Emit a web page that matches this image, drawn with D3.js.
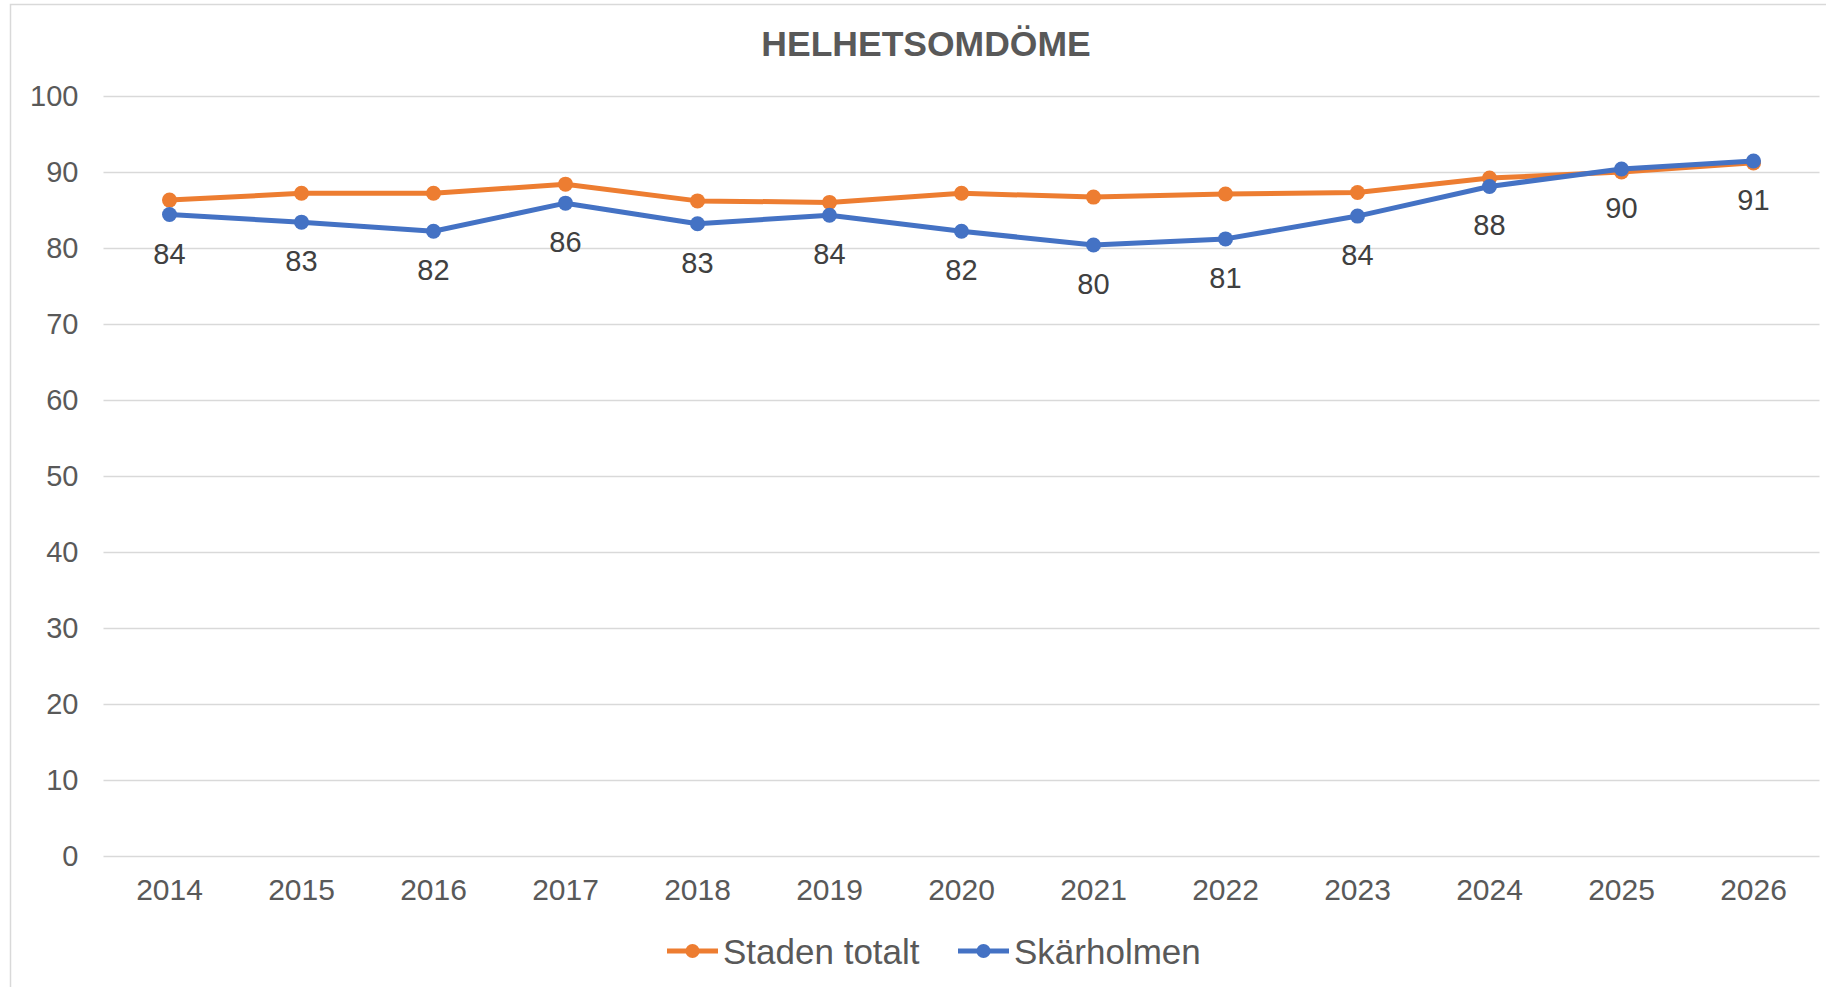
<!DOCTYPE html>
<html>
<head>
<meta charset="utf-8">
<script src="https://cdn.jsdelivr.net/npm/d3@7"></script>
<style>
  html, body { margin: 0; padding: 0; background: #ffffff; }
  svg { display: block; }
  text { font-family: "Liberation Sans", Arial, sans-serif; }
</style>
</head>
<body>
<svg id="chart" width="1826" height="987"></svg>
<script>
const title = "HELHETSOMDÖME";
const years = ["2014","2015","2016","2017","2018","2019","2020","2021","2022","2023","2024","2025","2026"];
const stadenTotalt = [86.3, 87.2, 87.2, 88.4, 86.2, 86.0, 87.2, 86.7, 87.1, 87.3, 89.2, 90.0, 91.2];
const skarholmen   = [84.4, 83.4, 82.2, 85.9, 83.2, 84.3, 82.2, 80.4, 81.2, 84.2, 88.1, 90.4, 91.45];
const seriesNames  = ["Staden totalt", "Skärholmen"];
const yTicks = [0, 10, 20, 30, 40, 50, 60, 70, 80, 90, 100];

const colors = ["#ED7D31", "#4472C4"];
const svg = d3.select("#chart");

// chart area frame
svg.append("rect")
  .attr("x", 10.5).attr("y", 4.5)
  .attr("width", 1840).attr("height", 1000)
  .attr("fill", "#fff").attr("stroke", "#d9d9d9").attr("stroke-width", 1.5);

const plotLeft = 103.5, plotRight = 1819.5, plotTop = 96, plotBottom = 856;

const x = d3.scaleBand().domain(years).range([plotLeft, plotRight]).padding(0);
const y = d3.scaleLinear().domain([0, 100]).range([plotBottom, plotTop]);
const cx = d => x(d) + x.bandwidth() / 2;

// y axis with gridlines
const yAxis = svg.append("g")
  .attr("transform", `translate(${plotLeft},0)`)
  .call(d3.axisLeft(y).tickValues(yTicks).tickSize(-(plotRight - plotLeft)).tickPadding(25));
yAxis.select(".domain").remove();
yAxis.selectAll(".tick line").attr("stroke", "#d9d9d9").attr("stroke-width", 1.5);
yAxis.selectAll(".tick text")
  .attr("fill", "#595959").attr("font-size", 29)
  .attr("font-family", "Liberation Sans, Arial, sans-serif");

// x axis
const xAxis = svg.append("g")
  .attr("transform", `translate(0,${plotBottom})`)
  .call(d3.axisBottom(x).tickSize(0).tickPadding(23));
xAxis.select(".domain").remove();
xAxis.selectAll(".tick text")
  .attr("fill", "#595959").attr("font-size", 30)
  .attr("font-family", "Liberation Sans, Arial, sans-serif");

// title
svg.append("text")
  .attr("x", 926).attr("y", 56)
  .attr("text-anchor", "middle")
  .attr("font-size", 35.5).attr("font-weight", "bold")
  .attr("fill", "#595959")
  .text(title);

// lines
const allSeries = [stadenTotalt, skarholmen];
const line = d3.line().x((d, i) => cx(years[i])).y(d => y(d));

allSeries.forEach((vals, si) => {
  const g = svg.append("g");
  g.append("path")
    .datum(vals)
    .attr("d", line)
    .attr("fill", "none")
    .attr("stroke", colors[si])
    .attr("stroke-width", 5)
    .attr("stroke-linejoin", "round")
    .attr("stroke-linecap", "round");
  g.selectAll("circle")
    .data(vals)
    .join("circle")
    .attr("cx", (d, i) => cx(years[i]))
    .attr("cy", d => y(d))
    .attr("r", 7.5)
    .attr("fill", colors[si]);
});

// data labels for Skärholmen (below points)
svg.append("g").selectAll("text")
  .data(skarholmen)
  .join("text")
  .attr("x", (d, i) => cx(years[i]))
  .attr("y", d => y(d) + 49)
  .attr("text-anchor", "middle")
  .attr("font-size", 29)
  .attr("fill", "#404040")
  .text(d => d3.format(".0f")(d));

// legend
const legendItems = [
  { name: seriesNames[0], color: colors[0], x: 667 },
  { name: seriesNames[1], color: colors[1], x: 958 }
];
const legendY = 951;
legendItems.forEach(it => {
  const g = svg.append("g");
  g.append("line")
    .attr("x1", it.x).attr("x2", it.x + 51)
    .attr("y1", legendY).attr("y2", legendY)
    .attr("stroke", it.color).attr("stroke-width", 5);
  g.append("circle")
    .attr("cx", it.x + 25.5).attr("cy", legendY).attr("r", 7)
    .attr("fill", it.color);
  g.append("text")
    .attr("x", it.x + 56).attr("y", legendY + 12.5)
    .attr("font-size", 35).attr("fill", "#595959")
    .text(it.name);
});
</script>
</body>
</html>
